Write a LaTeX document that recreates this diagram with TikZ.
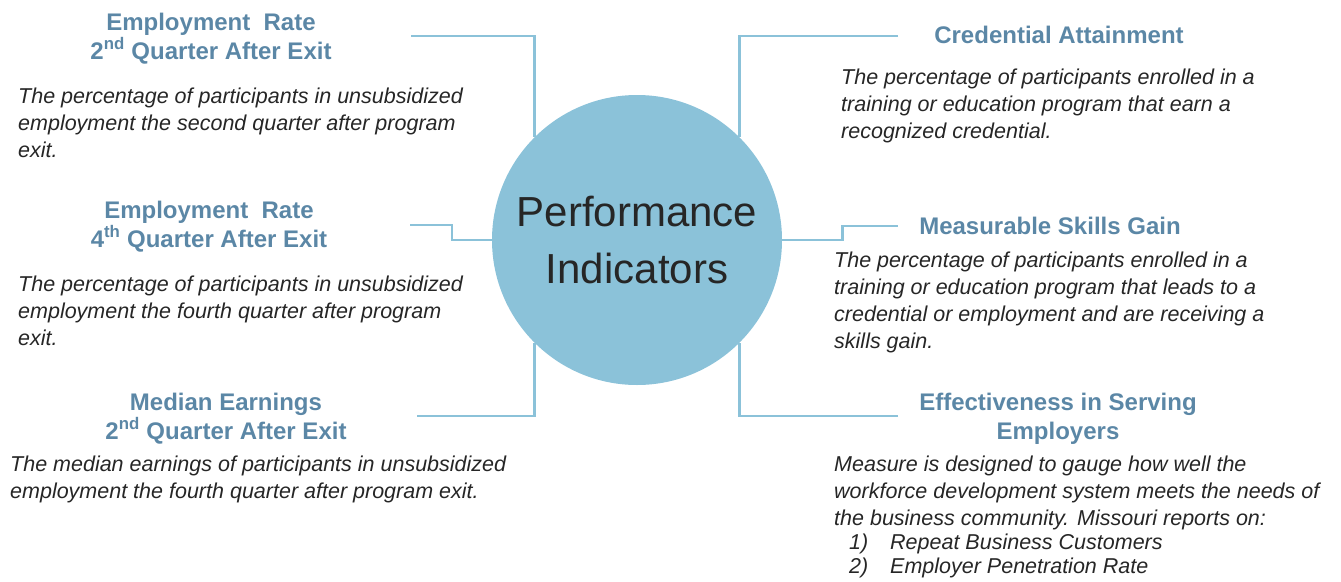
\documentclass[tikz,border=0pt]{standalone}
\usepackage{fontspec}
\setmainfont{Liberation Sans}
\definecolor{ringblue}{RGB}{139,194,217}
\definecolor{headblue}{RGB}{91,135,166}
\definecolor{bodygray}{RGB}{38,38,38}

\begin{document}
\begin{tikzpicture}[x=1pt,y=-1pt,
    head/.style={anchor=base,align=center,inner sep=0pt,text=headblue,
      font=\fontsize{24}{29}\selectfont\bfseries},
    desc/.style={anchor=base west,align=left,inner sep=0pt,text=bodygray,
      font=\fontsize{21.5}{26.8}\selectfont\itshape},
    link/.style={draw=ringblue,line width=2.6pt}]
    \useasboundingbox (0,0) rectangle (1341,581);

    \node[circle,fill=ringblue,minimum size=290pt,inner sep=0pt,align=center,
      text=bodygray,font=\fontsize{42}{57}\selectfont] (perf) at (637,240)
      {Performance\\Indicators};

    % left column (base = last line)
    \node[head] (emp2) at (211,59) {Employment~ Rate\\2\textsuperscript{nd} Quarter After Exit};
    \node[desc] (emp2txt) at (18,157) {The percentage of participants in unsubsidized\\
      employment the second quarter after program\\exit.};
    \node[head] (emp4) at (209,247) {Employment~ Rate\\4\textsuperscript{th} Quarter After Exit};
    \node[desc] (emp4txt) at (18,345) {The percentage of participants in unsubsidized\\
      employment the fourth quarter after program\\exit.};
    \node[head] (earn) at (226,439) {Median Earnings\\2\textsuperscript{nd} Quarter After Exit};
    \node[desc] (earntxt) at (10,498) {The median earnings of participants in unsubsidized\\
      employment the fourth quarter after program exit.};

    % right column
    \node[head] (cred) at (1059,43) {Credential Attainment};
    \node[desc] (credtxt) at (841,138) {The percentage of participants enrolled in a\\
      training or education program that earn a\\recognized credential.};
    \node[head] (skill) at (1050,234) {Measurable Skills Gain};
    \node[desc] (skilltxt) at (834,348) {The percentage of participants enrolled in a\\
      training or education program that leads to a\\
      credential or employment and are receiving a\\skills gain.};
    \node[head] (serv) at (1058,439) {Effectiveness in Serving\\Employers};
    \node[desc] (servtxt) at (834,573) {Measure is designed to gauge how well the\\
      workforce development system meets the needs of\\
      the business community. Missouri reports on:\\[-3pt]
      \hspace*{15pt}\makebox[41pt][l]{1)}Repeat Business Customers\\[-3pt]
      \hspace*{15pt}\makebox[41pt][l]{2)}Employer Penetration Rate};

    % connectors
    \coordinate (emp2end) at (411,36);
    \coordinate (emp4end) at (410,225);
    \coordinate (earnend) at (417,416);
    \coordinate (credend) at (898,36);
    \coordinate (skillend) at (898,226);
    \coordinate (servend) at (898,416);
    \draw[link] (emp2end) -| (perf.north west);
    \draw[link] (emp4end) -- ++(42,0) |- (perf.west);
    \draw[link] (earnend) -| (perf.south west);
    \draw[link] (credend) -| (perf.north east);
    \draw[link] (perf.east) -- ++(60,0) |- (skillend);
    \draw[link] (servend) -| (perf.south east);
\end{tikzpicture}
\end{document}
